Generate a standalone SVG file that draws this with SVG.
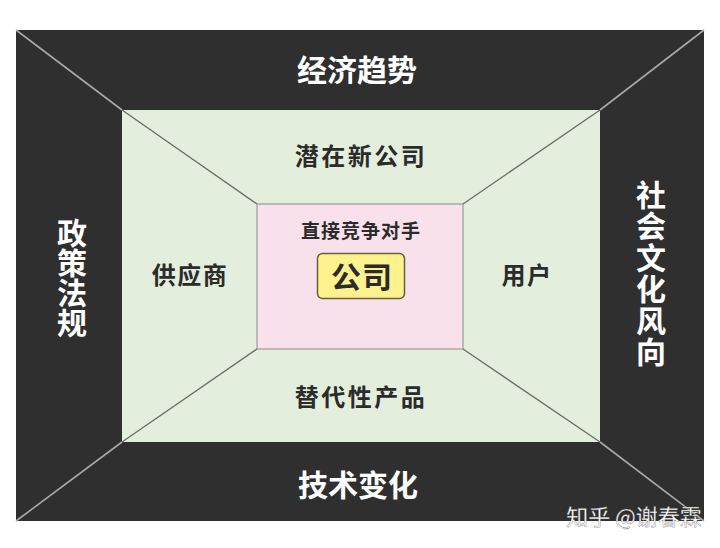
<svg xmlns="http://www.w3.org/2000/svg" width="720" height="548" viewBox="0 0 720 548">
<style>
.t{font-family:"Noto Sans CJK SC","Noto Sans",sans-serif;font-weight:bold;text-anchor:middle}
.w{fill:#ffffff;font-size:30px}
.v{writing-mode:vertical-rl}
.d{fill:#2b2b2b}
.l1{stroke:#a8a8a8;stroke-width:1.6;fill:none}
.l2{stroke:#6e6e6e;stroke-width:1.4;fill:none}
</style>
<rect x="0" y="0" width="720" height="548" fill="#ffffff"/>
<g id="outer">
<rect x="16" y="30" width="688" height="491" fill="#2f2f2f"/>
</g>
<g id="middle">
<rect x="122" y="110" width="478" height="332" fill="#e3efdc"/>
</g>
<g id="connectors">
<line class="l1" x1="16" y1="30" x2="122" y2="110"/>
<line class="l1" x1="704" y1="30" x2="600" y2="110"/>
<line class="l1" x1="16" y1="521" x2="122" y2="442"/>
<line class="l1" x1="704" y1="521" x2="600" y2="442"/>
<line class="l2" x1="122" y1="110" x2="257" y2="204"/>
<line class="l2" x1="600" y1="110" x2="463" y2="204"/>
<line class="l2" x1="122" y1="442" x2="257" y2="349"/>
<line class="l2" x1="600" y1="442" x2="463" y2="349"/>
</g>
<g id="inner">
<rect x="257" y="204" width="206" height="145" fill="#f8e1ea" stroke="#8a8a8a" stroke-width="1"/>
<text class="t d" x="361" y="238" font-size="19" letter-spacing="1">直接竞争对手</text>
</g>
<g id="company">
<rect x="317.500" y="253.500" width="87" height="45" rx="5" fill="#fdf28e" stroke="#6b5f3a" stroke-width="1.5"/>
<text class="t d" x="362" y="288" font-size="30" letter-spacing="1">公司</text>
</g>
<g id="economy"><text class="t w" x="357" y="81">经济趋势</text></g>
<g id="tech"><text class="t w" x="358" y="496">技术变化</text></g>
<g id="policy"><text class="t w v" x="72" y="278">政策法规</text></g>
<g id="culture"><text class="t w v" x="651" y="274" letter-spacing="1.5">社会文化风向</text></g>
<g id="newcomers"><text class="t d" x="361" y="165" font-size="24" letter-spacing="2.5">潜在新公司</text></g>
<g id="suppliers"><text class="t d" x="190" y="284" font-size="24" letter-spacing="1.5">供应商</text></g>
<g id="users"><text class="t d" x="527" y="284" font-size="24" letter-spacing="1.5">用户</text></g>
<g id="substitutes"><text class="t d" x="361" y="406" font-size="24" letter-spacing="2.5">替代性产品</text></g>
<g id="watermark"><text x="634" y="525" font-family="Noto Sans CJK SC,sans-serif" font-size="22" fill="#ffffff" text-anchor="middle" stroke="#555" stroke-width="0.3">知乎 @谢春霖</text></g>
</svg>
